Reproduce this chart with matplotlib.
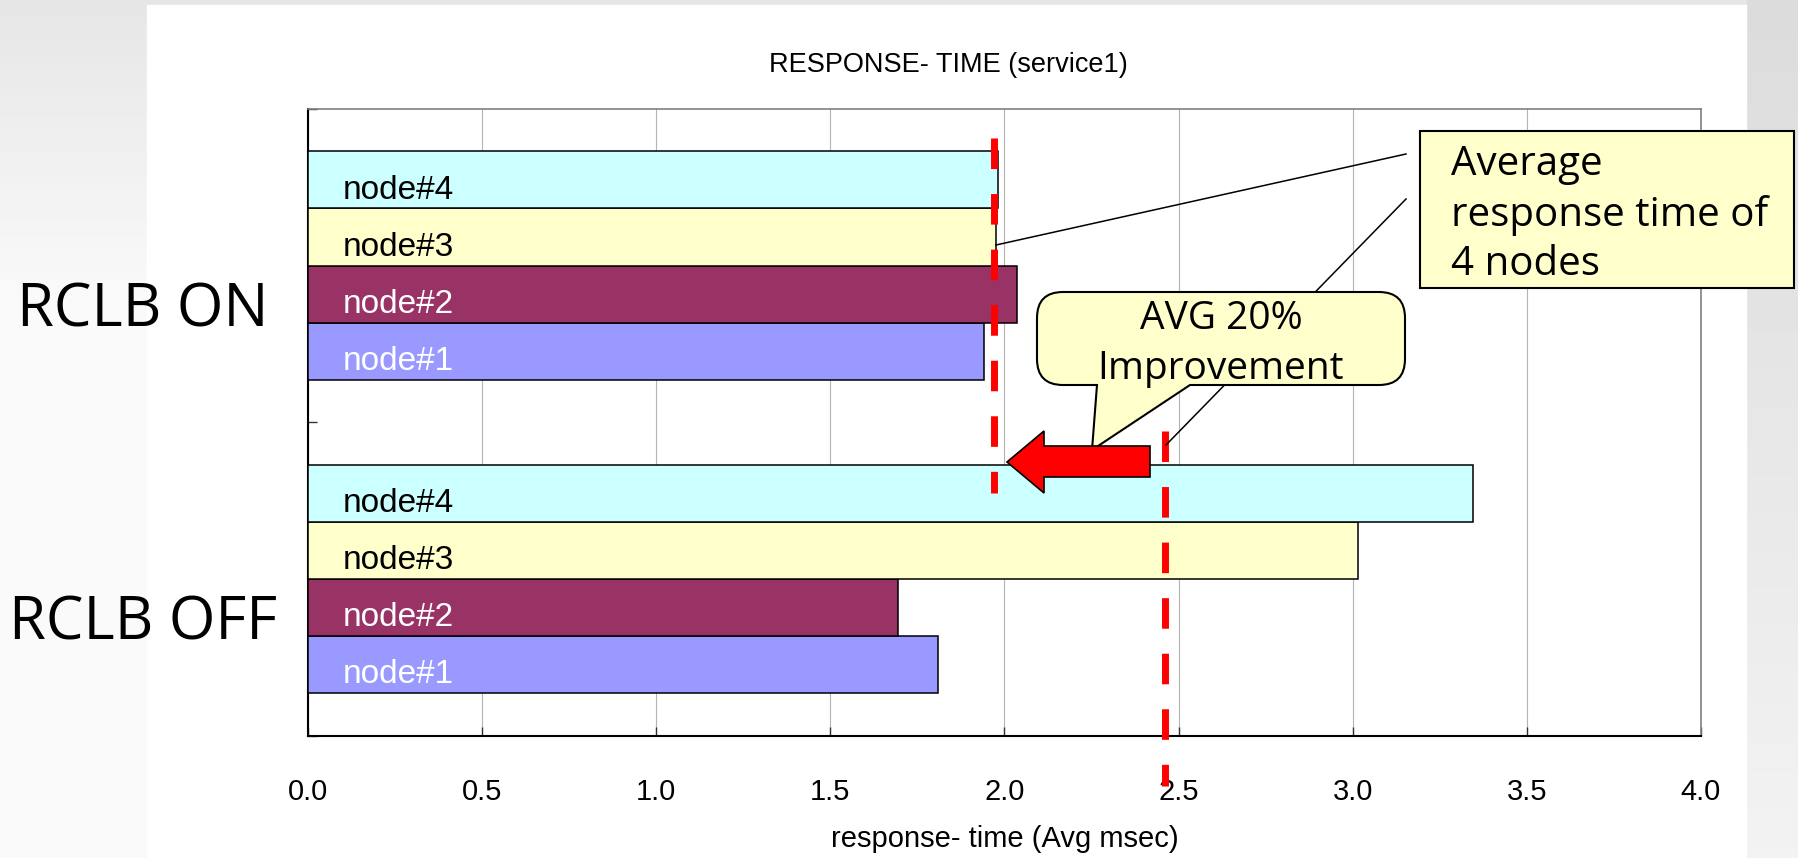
import numpy as np
import matplotlib.pyplot as plt
from matplotlib.patches import Rectangle, Polygon, PathPatch
from matplotlib.path import Path
from matplotlib.transforms import blended_transform_factory

plt.rcParams['font.family'] = ['Liberation Sans', 'DejaVu Sans']

# data
groups = ["RCLB OFF", "RCLB ON"]
nodes = ["node#1", "node#2", "node#3", "node#4"]
node_colors = ["#9999ff", "#993366", "#ffffcc", "#ccffff"]
label_colors = ["white", "white", "black", "black"]
resp_off = [1.81, 1.695, 3.015, 3.345]
resp_on = [1.94, 2.035, 1.975, 1.98]
avg_off = 2.46
avg_on = 1.97
xticks = [0.0, 0.5, 1.0, 1.5, 2.0, 2.5, 3.0, 3.5, 4.0]

W, H = 1799, 858
fig = plt.figure(figsize=(W / 100, H / 100), dpi=100)

# slide background
bg = fig.add_axes([0, 0, 1, 1], zorder=-10)
bg.set_xlim(0, W)
bg.set_ylim(H, 0)
bg.axis('off')
yy = np.linspace(0, 1, 200)[:, None]
left_shade = 0.90 + 0.08 * np.clip(yy * 2.8, 0, 1)
right_shade = 0.86 + 0.09 * yy
bg.imshow(left_shade, cmap='gray', vmin=0, vmax=1, extent=(0, 147, H, 0), aspect='auto')
bg.imshow(right_shade, cmap='gray', vmin=0, vmax=1, extent=(1746, W, H, 0), aspect='auto')
bg.add_patch(Rectangle((147, 0), 1746 - 147, 5, color='#e6e6e6'))
bg.add_patch(Rectangle((147, 5), 1746 - 147, H - 5, color='white'))

# main chart
ax = fig.add_axes([308 / W, 1 - 735.5 / H, (1701 - 308) / W, (735.5 - 109) / H])
bar_h = 0.1825
for k in range(len(nodes)):
    off = (k - 1.5) * bar_h
    ys = [0.5 + off, 1.5 + off]
    vals = [resp_off[k], resp_on[k]]
    ax.barh(ys, vals, height=bar_h, color=node_colors[k], edgecolor='black',
            linewidth=1.1, zorder=3)
    for y in ys:
        ax.text(0.1, y - 0.06, nodes[k], color=label_colors[k], fontsize=24,
                ha='left', va='baseline', zorder=4)

ax.set_xlim(0, 4.0)
ax.set_ylim(0, 2)
ax.set_xticks(xticks)
ax.set_xticklabels([f"{t:.1f}" for t in xticks])
ax.set_yticks([0, 1, 2])
ax.set_yticklabels([])
ax.grid(axis='x', color='#b4b4b4', lw=0.8)
ax.set_axisbelow(True)
ax.tick_params(axis='x', direction='in', length=6.5, width=1, color='#333333',
               labelsize=21, pad=30.5)
ax.tick_params(axis='y', direction='in', length=6.5, width=1, color='#333333')
for s in ['top', 'right']:
    ax.spines[s].set_color('#808080')
    ax.spines[s].set_linewidth(1.2)
for s in ['left', 'bottom']:
    ax.spines[s].set_color('black')
    ax.spines[s].set_linewidth(1.5)
ax.set_xlabel("response- time (Avg msec)", fontsize=21, labelpad=14)

# average lines
trans = ax.get_xaxis_transform()
ax.plot([avg_on, avg_on], [0.954, 0.387], transform=trans, color='red', lw=5,
        ls=(0, (4.4, 3.6)), clip_on=False, zorder=6)
ax.plot([avg_off, avg_off], [0.486, -0.0806], transform=trans, color='red', lw=5,
        ls=(0, (4.4, 3.6)), clip_on=False, zorder=6)

# group labels
gt = blended_transform_factory(ax.transAxes, ax.transData)
for i, g in enumerate(groups):
    ax.text(-0.1185, i + 0.5 - 0.195, g, transform=gt, ha='center', va='baseline',
            fontsize=43, family=['Open Sans', 'DejaVu Sans'], clip_on=False)

fig.text(948 / W, 1 - 65 / H, "RESPONSE- TIME (service1)", ha='center', va='center',
         fontsize=19.5)

# annotations
ov = fig.add_axes([0, 0, 1, 1], zorder=10)
ov.set_xlim(0, W)
ov.set_ylim(H, 0)
ov.axis('off')

ov.plot([1406, 996], [154, 245], color='black', lw=1.1, zorder=1)
ov.plot([1406, 1166], [199, 445], color='black', lw=1.1, zorder=1)

ov.add_patch(Rectangle((1420, 131), 374, 157, facecolor='#ffffcc', edgecolor='black',
                       lw=1.5, zorder=2))
box_lines = ["Average", "response time of", "4 nodes"]
for txt, yb in zip(box_lines, [175, 226, 275]):
    ov.text(1451, yb, txt, fontsize=29, ha='left', va='baseline',
            family=['Open Sans', 'DejaVu Sans'], zorder=3)

x0, x1, y0, y1, r = 1037, 1405, 292, 385, 26
verts = [(x0 + r, y0), (x1 - r, y0), (x1, y0), (x1, y0 + r), (x1, y1 - r), (x1, y1),
         (x1 - r, y1), (1190, y1), (1092, 450), (1097, y1), (x0 + r, y1), (x0, y1),
         (x0, y1 - r), (x0, y0 + r), (x0, y0), (x0 + r, y0), (x0 + r, y0)]
codes = [Path.MOVETO, Path.LINETO, Path.CURVE3, Path.CURVE3, Path.LINETO, Path.CURVE3,
         Path.CURVE3, Path.LINETO, Path.LINETO, Path.LINETO, Path.LINETO, Path.CURVE3,
         Path.CURVE3, Path.LINETO, Path.CURVE3, Path.CURVE3, Path.CLOSEPOLY]
ov.add_patch(PathPatch(Path(verts, codes), facecolor='#ffffcc', edgecolor='black',
                       lw=1.5, zorder=4))
ov.text(1221, 329, "AVG 20%", fontsize=28, ha='center', va='baseline',
        family=['Open Sans', 'DejaVu Sans'], zorder=5)
ov.text(1221, 379, "Improvement", fontsize=28, ha='center', va='baseline',
        family=['Open Sans', 'DejaVu Sans'], zorder=5)

arrow = [(1007, 462), (1044, 431), (1044, 446), (1150, 446), (1150, 477),
         (1044, 477), (1044, 493)]
ov.add_patch(Polygon(arrow, closed=True, facecolor='red', edgecolor='black', lw=1.2,
                     zorder=6))

fig.savefig("out.png", dpi=100)
